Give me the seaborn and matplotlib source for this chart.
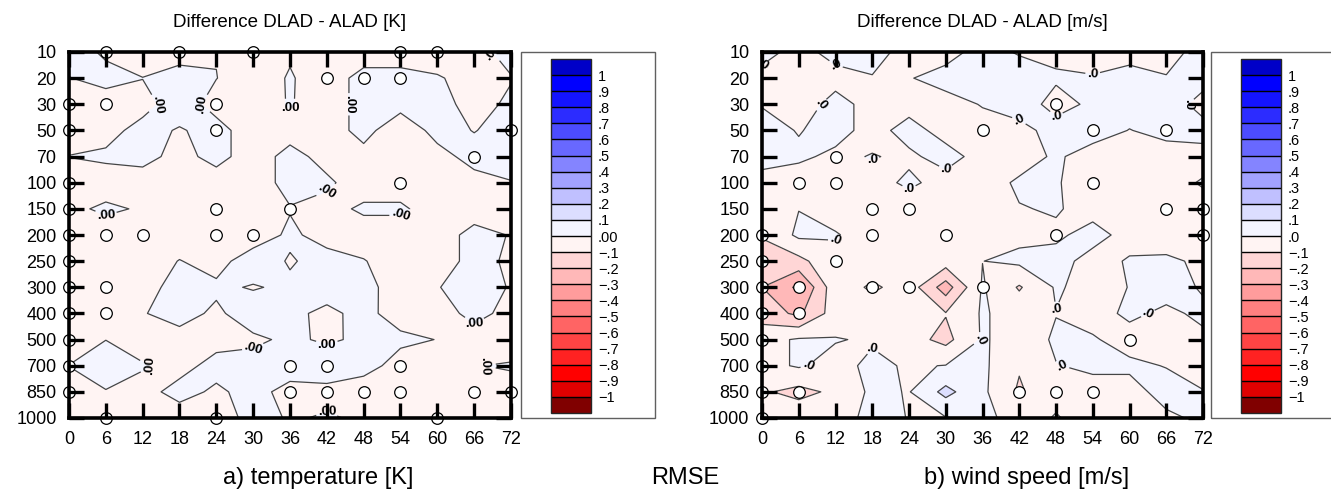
import numpy as np
import pandas as pd
import matplotlib
matplotlib.use("Agg")
import matplotlib.pyplot as plt
from matplotlib.colors import ListedColormap, BoundaryNorm
from matplotlib.patches import Rectangle
import seaborn as sns

# forecast hours (x) and pressure levels (y, evenly spaced rows)
hours = [0, 6, 12, 18, 24, 30, 36, 42, 48, 54, 60, 66, 72]
pressure_levels = [10, 20, 30, 50, 70, 100, 150, 200, 250, 300, 400, 500, 700, 850, 1000]

contour_levels = [-1.0, -0.9, -0.8, -0.7, -0.6, -0.5, -0.4, -0.3, -0.2, -0.1, 0.0,
                  0.1, 0.2, 0.3, 0.4, 0.5, 0.6, 0.7, 0.8, 0.9, 1.0]

# fill colours from "< -1" up to "> 1"
fill_colors = ["#800000", "#e00000", "#ff0000", "#ff2222", "#ff4444", "#ff6464",
               "#ff8080", "#ff9c9c", "#ffb8b8", "#ffd6d6", "#fff4f3",
               "#f4f5ff", "#dcdeff", "#c0c0ff", "#a2a2ff", "#8484ff", "#6868ff",
               "#4c4cff", "#2c2cff", "#1414ff", "#0000ff", "#0000c8"]

# RMSE difference DLAD - ALAD, temperature [K]; rows = pressure levels, cols = hours
temp_diff = [
    [0.03, -0.01, -0.03, -0.02, -0.002, -0.03, -0.007, -0.03, -0.03, -0.03, -0.03, -0.02, 0.02],
    [-0.002, 0.02, 0.001, 0.02, 0.001, -0.03, 0.005, -0.03, 0.02, 0.02, 0.005, -0.02, -0.003],
    [-0.02, -0.03, -0.02, 0.03, -0.02, -0.03, 0.004, -0.03, 0.02, 0.02, 0.02, -0.02, 0.01],
    [-0.02, -0.02, 0.02, -0.005, 0.02, -0.03, -0.025, -0.03, 0.02, -0.04, 0.02, -0.002, 0.02],
    [0.001, 0.01, 0.02, -0.02, 0.02, -0.03, 0.02, -0.02, -0.02, -0.001, -0.02, 0.02, 0.02],
    [-0.03, -0.028, -0.03, -0.03, -0.03, -0.03, 0.02, 0.01, -0.03, -0.03, -0.03, -0.02, -0.002],
    [-0.013, 0.01, -0.006, -0.03, -0.03, -0.03, -0.003, -0.02, 0.01, 0.01, -0.03, -0.03, -0.03],
    [-0.03, -0.03, -0.03, -0.03, -0.03, -0.03, 0.01, -0.02, -0.03, -0.03, -0.03, 0.02, -0.003],
    [-0.03, -0.03, -0.03, 0.002, -0.02, 0.03, -0.005, 0.02, 0.003, -0.03, -0.03, 0.02, -0.01],
    [-0.03, -0.03, -0.02, 0.02, 0.01, -0.004, 0.01, 0.02, 0.02, -0.03, -0.002, 0.02, -0.003],
    [-0.03, -0.03, -0.003, 0.02, -0.01, 0.03, 0.01, -0.01, 0.013, -0.02, -0.03, 0.02, -0.02],
    [-0.03, -0.0005, -0.03, -0.02, -0.02, -0.01, 0.01, -0.008, 0.01, 0.01, -0.001, -0.03, -0.03],
    [0.001, 0.02, 0.005, -0.02, 0.02, 0.02, 0.03, 0.034, 0.02, -0.02, -0.03, -0.002, 0.005],
    [-0.03, -0.002, -0.02, 0.02, -0.01, 0.02, -0.02, -0.016, -0.03, -0.03, -0.03, -0.03, -0.02],
    [-0.03, -0.03, -0.03, -0.03, -0.03, 0.02, -0.005, 0.005, -0.007, -0.03, -0.03, -0.03, -0.03],
]

# RMSE difference DLAD - ALAD, wind speed [m/s]
wind_diff = [
    [0.02, -0.02, 0.02, 0.02, -0.02, -0.02, 0.02, -0.005, -0.02, -0.03, -0.02, -0.02, 0.02],
    [-0.02, -0.03, -0.02, -0.003, -0.003, 0.02, 0.03, 0.03, 0.011, 0.005, 0.02, 0.003, 0.02],
    [-0.003, -0.03, 0.02, -0.02, -0.02, -0.02, 0.003, 0.045, -0.03, 0.016, 0.03, 0.03, -0.02],
    [0.02, -0.003, 0.02, -0.02, 0.02, -0.02, -0.02, -0.03, 0.035, 0.03, -0.002, 0.02, 0.02],
    [0.02, 0.01, -0.012, 0.003, -0.01, 0.02, -0.02, -0.03, 0.01, -0.03, -0.03, -0.03, -0.02],
    [-0.02, -0.03, -0.03, -0.02, 0.01, -0.02, -0.03, 0.01, 0.005, -0.03, -0.03, -0.02, 0.005],
    [-0.03, -0.002, -0.03, -0.03, -0.03, -0.03, -0.003, -0.003, 0.005, -0.02, -0.03, -0.03, -0.02],
    [-0.095, 0.02, 0.005, -0.03, -0.03, -0.03, -0.03, -0.02, -0.01, 0.02, -0.02, -0.03, -0.03],
    [-0.13, -0.13, -0.02, -0.03, -0.03, -0.05, -0.001, 0.02, 0.02, -0.02, 0.005, 0.01, -0.01],
    [-0.20, -0.32, -0.03, -0.12, -0.047, -0.25, 0.01, -0.11, 0.01, -0.03, 0.002, 0.02, -0.005],
    [-0.15, -0.22, -0.05, -0.03, -0.05, -0.095, 0.01, -0.04, -0.002, -0.02, 0.01, -0.01, 0.01],
    [-0.03, 0.01, 0.005, -0.01, -0.06, -0.13, 0.01, -0.04, 0.01, 0.005, -0.02, -0.02, -0.01],
    [-0.03, 0.01, -0.03, 0.02, -0.01, 0.003, 0.02, -0.09, -0.002, 0.01, 0.01, -0.002, -0.02],
    [-0.087, -0.13, -0.08, 0.02, -0.005, 0.13, 0.02, -0.115, -0.02, -0.02, -0.02, 0.02, 0.002],
    [-0.03, -0.03, -0.03, 0.02, -0.002, -0.005, 0.02, -0.03, 0.005, -0.03, 0.001, -0.01, 0.01],
]

# grid points marked with open circles
temp_circle_hours = [6, 18, 30, 54, 60, 42, 48, 54, 0, 6, 24, 0, 24, 72, 66, 0, 54,
                     0, 24, 36, 0, 6, 12, 24, 30, 0, 0, 6, 0, 6, 0, 0, 36, 42, 54,
                     0, 36, 42, 48, 54, 66, 72, 6, 24, 60]
temp_circle_levels = [10, 10, 10, 10, 10, 20, 20, 20, 30, 30, 30, 50, 50, 50, 70, 100, 100,
                      150, 150, 150, 200, 200, 200, 200, 200, 250, 300, 300, 400, 400, 500,
                      700, 700, 700, 700, 850, 850, 850, 850, 850, 850, 850, 1000, 1000, 1000]

wind_circle_hours = [48, 36, 54, 66, 12, 6, 12, 54, 18, 24, 66, 72, 0, 18, 30, 48, 72,
                     0, 12, 0, 6, 18, 24, 36, 0, 6, 0, 60, 0, 0, 6, 42, 48, 54, 0]
wind_circle_levels = [30, 50, 50, 50, 70, 100, 100, 100, 150, 150, 150, 150, 200, 200, 200,
                      200, 200, 250, 250, 300, 300, 300, 300, 300, 400, 400, 500, 500, 700,
                      850, 850, 850, 850, 850, 1000]

FONT = ["Liberation Sans", "DejaVu Sans"]


def level_labels(zero_text):
    labels = []
    for v in contour_levels:
        if v == 0:
            labels.append(zero_text)
        elif abs(v) == 1:
            labels.append("\u22121" if v < 0 else "1")
        else:
            s = f"{abs(v):.1f}".lstrip("0")
            labels.append("\u2212" + s if v < 0 else s)
    return labels


def draw_panel(fig, ax, cax, frame_rect, values, c_hours, c_levels, title, zero_text):
    cmap = ListedColormap(fill_colors[1:-1])
    cmap.set_under(fill_colors[0])
    cmap.set_over(fill_colors[-1])
    norm = BoundaryNorm(contour_levels, cmap.N)

    X, Y = np.meshgrid(hours, np.arange(len(pressure_levels)))
    Z = np.array(values)
    cs = ax.contourf(X, Y, Z, levels=contour_levels, cmap=cmap, norm=norm, extend="both")
    cl = ax.contour(X, Y, Z, levels=contour_levels, colors="#454545",
                    linewidths=0.9, linestyles="solid")
    texts = ax.clabel(cl, [0.0], fmt={0.0: zero_text}, fontsize=9.5, inline=True,
                      inline_spacing=2, colors="black")
    for t in texts:
        t.set_fontweight("bold")

    df = pd.DataFrame({"hour": c_hours,
                       "row": [pressure_levels.index(p) for p in c_levels]})
    sns.scatterplot(data=df, x="hour", y="row", ax=ax, marker="o", s=70,
                    color="white", edgecolor="black", linewidth=0.9,
                    zorder=3, clip_on=False, legend=False)

    ax.set_xlim(0, 72)
    ax.set_ylim(len(pressure_levels) - 1, 0)
    ax.set_xticks(hours)
    ax.set_xticklabels([str(h) for h in hours])
    ax.set_yticks(range(len(pressure_levels)))
    ax.set_yticklabels([str(p) for p in pressure_levels])
    ax.set_xlabel("")
    ax.set_ylabel("")
    ax.tick_params(direction="in", length=11, width=2.4, bottom=True, left=True,
                   top=True, right=True, labelsize=13, pad=9, colors="black")
    ax.xaxis.set_zorder(4)
    ax.yaxis.set_zorder(4)
    for lab in ax.get_xticklabels() + ax.get_yticklabels():
        lab.set_family(FONT)
    for sp in ax.spines.values():
        sp.set_linewidth(2.6)
        sp.set_color("black")
        sp.set_zorder(5)
    ax.set_title(title, fontsize=13.5, pad=18, family=FONT, color="black")

    cb = fig.colorbar(cs, cax=cax, ticks=contour_levels, drawedges=True,
                      extendrect=True, extendfrac=0.05)
    cb.outline.set_linewidth(1.0)
    cb.dividers.set_linewidth(1.0)
    cb.dividers.set_color("black")
    cax.set_yticklabels(level_labels(zero_text))
    cax.tick_params(length=0, labelsize=10.5, pad=5, colors="black")
    for lab in cax.get_yticklabels():
        lab.set_family(FONT)

    fig.add_artist(Rectangle(frame_rect[:2], frame_rect[2], frame_rect[3],
                             transform=fig.transFigure, fill=False,
                             edgecolor="#606060", linewidth=1.0))


sns.set_style("white")
plt.rcParams["font.family"] = FONT
plt.rcParams["text.color"] = "black"

W, H = 1331, 495
fig = plt.figure(figsize=(W / 100, H / 100), dpi=100)


def fig_rect(x0, y0, x1, y1):
    return [x0 / W, 1 - y1 / H, (x1 - x0) / W, (y1 - y0) / H]


ax_t = fig.add_axes(fig_rect(69, 52, 511, 418))
cax_t = fig.add_axes(fig_rect(551, 59, 591, 413))
ax_w = fig.add_axes(fig_rect(762, 52, 1203, 418))
cax_w = fig.add_axes(fig_rect(1241, 59, 1281, 413))

draw_panel(fig, ax_t, cax_t, fig_rect(521, 52, 655, 418), temp_diff,
           temp_circle_hours, temp_circle_levels, "Difference DLAD - ALAD [K]", ".00")
draw_panel(fig, ax_w, cax_w, fig_rect(1211, 52, 1345, 418), wind_diff,
           wind_circle_hours, wind_circle_levels, "Difference DLAD - ALAD [m/s]", ".0")

fig.text(318 / W, 1 - 478 / H, "a) temperature [K]", fontsize=17, ha="center", va="center")
fig.text(685 / W, 1 - 478 / H, "RMSE", fontsize=17, ha="center", va="center")
fig.text(1027 / W, 1 - 478 / H, "b) wind speed [m/s]", fontsize=17, ha="center", va="center")

fig.savefig("out.png", dpi=100)
